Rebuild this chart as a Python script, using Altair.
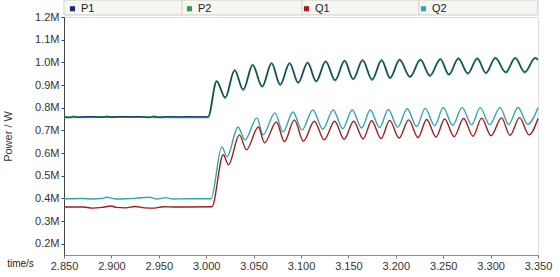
import altair as alt
import pandas as pd

# ---------------- data (values in MW, time in s) ----------------
p2_t = [2.850, 2.900, 2.950, 3.002, 3.011, 3.020, 3.030, 3.039, 3.049, 3.059, 3.069, 3.078,
        3.088, 3.097, 3.107, 3.116, 3.126, 3.136, 3.146, 3.155, 3.165, 3.175, 3.185, 3.194,
        3.204, 3.215, 3.226, 3.236, 3.247, 3.256, 3.266, 3.276, 3.286, 3.295, 3.305, 3.316,
        3.326, 3.336, 3.347, 3.350]
p2_v = [0.758, 0.759, 0.758, 0.758, 0.918, 0.843, 0.966, 0.878, 0.989, 0.892, 0.997, 0.900,
        0.997, 0.909, 0.999, 0.915, 1.005, 0.920, 1.008, 0.925, 1.010, 0.922, 1.010, 0.930,
        1.012, 0.935, 1.012, 0.940, 1.015, 0.945, 1.018, 0.950, 1.018, 0.952, 1.020, 0.955,
        1.020, 0.955, 1.020, 1.012]

p1_t = [2.850, 2.856, 2.860, 2.864, 2.870, 2.880, 2.890, 2.895, 2.900, 2.910, 2.920, 2.930,
        2.940, 2.945, 2.950, 2.960, 2.970, 2.980, 2.990, 3.002, 3.011, 3.020, 3.030, 3.039,
        3.049, 3.059, 3.069, 3.078, 3.088, 3.097, 3.107, 3.116, 3.126, 3.136, 3.146, 3.155,
        3.165, 3.175, 3.185, 3.194, 3.204, 3.215, 3.226, 3.236, 3.247, 3.256, 3.266, 3.276,
        3.286, 3.295, 3.305, 3.316, 3.326, 3.336, 3.347, 3.350]
p1_v = [0.760, 0.756, 0.763, 0.757, 0.760, 0.761, 0.757, 0.763, 0.757, 0.761, 0.759, 0.761,
        0.756, 0.763, 0.757, 0.761, 0.759, 0.761, 0.760, 0.760, 0.915, 0.846, 0.963, 0.881,
        0.986, 0.895, 0.994, 0.903, 0.994, 0.912, 0.996, 0.918, 1.002, 0.923, 1.005, 0.928,
        1.007, 0.926, 1.007, 0.933, 1.009, 0.938, 1.009, 0.943, 1.012, 0.948, 1.015, 0.952,
        1.015, 0.955, 1.017, 0.957, 1.017, 0.958, 1.017, 1.009]

q2_t = [2.850, 2.870, 2.880, 2.890, 2.895, 2.905, 2.915, 2.925, 2.940, 2.948, 2.957, 2.965,
        2.980, 3.005, 3.0165, 3.022, 3.0335, 3.041, 3.0535, 3.060, 3.0725, 3.081, 3.0915,
        3.101, 3.1125, 3.123, 3.134, 3.144, 3.154, 3.164, 3.173, 3.183, 3.192, 3.202, 3.212,
        3.222, 3.231, 3.241, 3.250, 3.260, 3.270, 3.280, 3.289, 3.299, 3.310, 3.319, 3.329,
        3.339, 3.350]
q2_v = [0.398, 0.399, 0.397, 0.399, 0.405, 0.397, 0.398, 0.400, 0.405, 0.397, 0.403, 0.397,
        0.398, 0.398, 0.627, 0.583, 0.715, 0.658, 0.755, 0.680, 0.777, 0.693, 0.781,
        0.702, 0.790, 0.705, 0.790, 0.707, 0.790, 0.710, 0.790, 0.712, 0.792, 0.714, 0.795,
        0.717, 0.797, 0.720, 0.800, 0.722, 0.800, 0.724, 0.800, 0.725, 0.800, 0.726, 0.801,
        0.727, 0.800]

q1_t = [2.850, 2.870, 2.880, 2.890, 2.900, 2.905, 2.915, 2.925, 2.935, 2.945, 2.955, 2.965,
        2.980, 3.006, 3.018, 3.0235, 3.035, 3.0425, 3.055, 3.0615, 3.074, 3.0825, 3.093,
        3.1025, 3.114, 3.1245, 3.1355, 3.1455, 3.1555, 3.1655, 3.1745, 3.1845, 3.1935, 3.2035,
        3.2135, 3.2235, 3.2325, 3.2425, 3.2515, 3.2615, 3.2715, 3.2815, 3.2905, 3.3005,
        3.3115, 3.3205, 3.3305, 3.3405, 3.350]
q1_v = [0.362, 0.362, 0.357, 0.360, 0.366, 0.360, 0.358, 0.364, 0.358, 0.357, 0.363, 0.362,
        0.362, 0.363, 0.592, 0.548, 0.680, 0.614, 0.715, 0.645, 0.737, 0.650, 0.746,
        0.652, 0.740, 0.658, 0.740, 0.660, 0.740, 0.662, 0.742, 0.664, 0.744, 0.666,
        0.746, 0.668, 0.748, 0.670, 0.750, 0.672, 0.752, 0.674, 0.754, 0.676,
        0.755, 0.678, 0.756, 0.680, 0.752]

series = ["P1", "P2", "Q1", "Q2"]
colors = ["#1b2a7a", "#2e9a4a", "#a31c1c", "#35a6a6"]
x_ticks = [2.85, 2.90, 2.95, 3.00, 3.05, 3.10, 3.15, 3.20, 3.25, 3.30, 3.35]
y_ticks = [0.2, 0.3, 0.4, 0.5, 0.6, 0.7, 0.8, 0.9, 1.0, 1.1, 1.2]

def frame(name, t, v):
    return pd.DataFrame({"series": name, "t": t, "v": v})

data = {
    "P1": frame("P1", p1_t, p1_v),
    "P2": frame("P2", p2_t, p2_v),
    "Q1": frame("Q1", q1_t, q1_v),
    "Q2": frame("Q2", q2_t, q2_v),
}
legend_df = pd.DataFrame({"series": series, "t": [3.0] * 4, "v": [0.5] * 4})

W, H = 474, 238

xenc = alt.X("t:Q", scale=alt.Scale(domain=[2.85, 3.35], nice=False, zero=False),
             axis=alt.Axis(values=x_ticks, format=".3f", title="time/s",
                           titleX=-44, titleY=8, titleAlign="center", titleBaseline="middle",
                           titleFontSize=10, titleFontWeight="normal", titleColor="#222",
                           labelFontSize=11, labelColor="#333", labelPadding=2,
                           tickSize=3, tickColor="#777", domainColor="#888",
                           labelFlush=False, grid=False))
yenc = alt.Y("v:Q", scale=alt.Scale(domain=[0.15, 1.2], nice=False, zero=False),
             axis=alt.Axis(values=y_ticks, labelExpr="format(datum.value, '.1f') + 'M'",
                           title="Power / W", titleX=-56, titleY=119, titleAngle=-90,
                           titleAlign="center", titleBaseline="middle",
                           titleFontSize=11, titleFontWeight="normal", titleColor="#333",
                           labelFontSize=11, labelColor="#333", labelPadding=2,
                           tickSize=3, tickColor="#444", domainColor="#444", grid=False))
cenc = alt.Color("series:N", scale=alt.Scale(domain=series, range=colors),
                 legend=alt.Legend(title=None, orient="none", legendX=3, legendY=-14,
                                   direction="horizontal", columns=4, symbolType="square",
                                   symbolSize=26, labelFontSize=11, labelColor="#222",
                                   labelOffset=3, columnPadding=88, gridAlign="all",
                                   symbolStrokeWidth=0, padding=0))

box = alt.Chart(pd.DataFrame({"k": [0]})).mark_rect(
    fill="#f6f6f2", stroke="#cfcfc8", strokeWidth=1
).encode(x=alt.value(0), x2=alt.value(W), y=alt.value(-17), y2=alt.value(-2))

dividers = alt.Chart(pd.DataFrame({"k": [118, 238, 355]})).mark_rule(
    color="#cfcfc8", strokeWidth=1
).encode(x=alt.X("k:Q", scale=None), y=alt.value(-17), y2=alt.value(-2))

legend_layer = alt.Chart(legend_df).mark_square(filled=True, size=0, opacity=1).encode(
    x=xenc, y=yenc, color=cenc)

def line(name, width):
    return alt.Chart(data[name]).mark_line(interpolate="monotone", strokeWidth=width).encode(
        x=xenc, y=yenc, color=cenc)

chart = alt.layer(
    box, dividers, legend_layer,
    line("Q2", 1.4), line("Q1", 1.4), line("P2", 2.0), line("P1", 1.0),
).properties(
    width=W, height=H,
    autosize=alt.AutoSizeParams(type="none"),
    padding={"left": 64, "top": 17, "right": 22, "bottom": 22},
    background="white",
).configure_view(stroke=None).configure(font="Liberation Sans")

chart.save("out.html", embed_options={"renderer": "svg", "actions": False})
